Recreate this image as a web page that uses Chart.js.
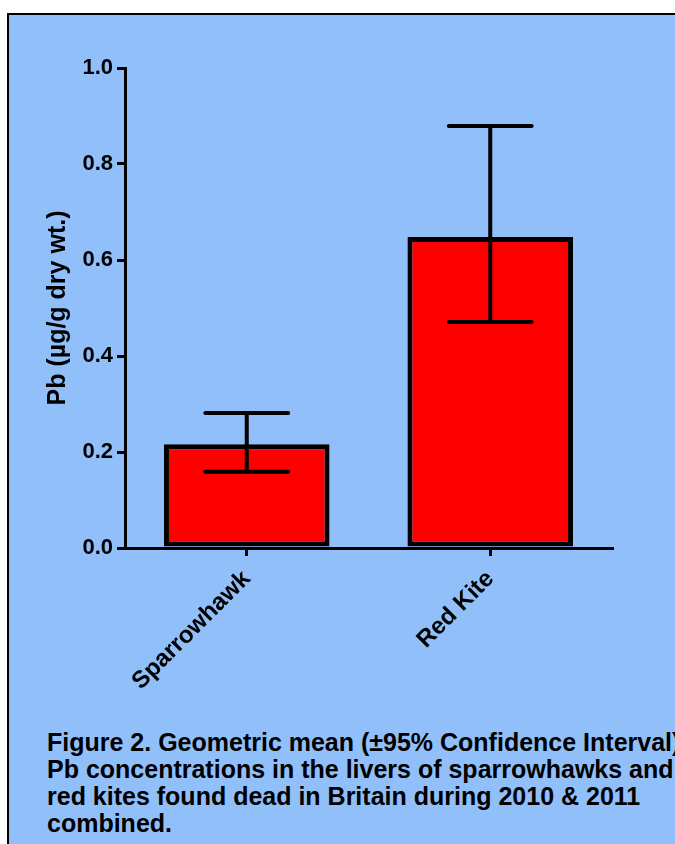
<!DOCTYPE html>
<html>
<head>
<meta charset="utf-8">
<script src="https://cdn.jsdelivr.net/npm/chart.js@4/dist/chart.umd.min.js"></script>
<style>
    body { margin: 0; background: #ffffff; overflow: hidden; width: 675px; height: 844px; position: relative; }
    .frame { position: absolute; left: 7px; top: 13px; width: 720px; height: 900px; background: #90bff9; border-left: 2px solid #000; border-top: 2px solid #000; }
    .chart-box { position: absolute; left: 0; top: 0; width: 675px; height: 700px; }
    .caption { position: absolute; left: 47px; top: 729px; font: bold 25px "Liberation Sans", Arial, sans-serif; line-height: 27px; color: #000; white-space: nowrap; }
</style>
</head>
<body>
<div class="frame"></div>
<div class="chart-box"><canvas id="chart" width="675" height="700"></canvas></div>
<div class="caption">Figure 2. Geometric mean (±95% Confidence Interval)<br>Pb concentrations in the livers of sparrowhawks and<br>red kites found dead in Britain during 2010 &amp; 2011<br>combined.</div>
<script>
const species = ["Sparrowhawk", "Red Kite"];
const geoMean = [0.216, 0.648];
const ciLower = [0.159, 0.471];
const ciUpper = [0.281, 0.879];
const yTicks = [0, 0.2, 0.4, 0.6, 0.8, 1.0];

const font = "'Liberation Sans', Arial, sans-serif";

// whiskers for the 95% CI, drawn on top of the bars
const errorBars = {
    id: 'errorBars',
    afterDatasetsDraw(chart) {
        let ctx = chart.ctx;
        let y = chart.scales.y;
        let bars = chart.getDatasetMeta(0).data;
        ctx.save();
        ctx.strokeStyle = '#000';
        ctx.lineWidth = 4;
        ctx.lineCap = 'round';
        bars.forEach((bar, i) => {
            let lo = y.getPixelForValue(ciLower[i]);
            let hi = y.getPixelForValue(ciUpper[i]);
            let half = bar.width / 4;
            ctx.beginPath();
            ctx.moveTo(bar.x, lo);
            ctx.lineTo(bar.x, hi);
            ctx.moveTo(bar.x - half, hi);
            ctx.lineTo(bar.x + half, hi);
            ctx.moveTo(bar.x - half, lo);
            ctx.lineTo(bar.x + half, lo);
            ctx.stroke();
        });
        ctx.restore();
    }
};

new Chart(document.getElementById('chart'), {
    type: 'bar',
    plugins: [errorBars],
    data: {
        labels: species,
        datasets: [{
            data: geoMean,
            backgroundColor: '#ff0000',
            borderColor: '#000000',
            borderWidth: 5,
            borderSkipped: false,
            categoryPercentage: 1,
            barPercentage: 0.68,
        }]
    },
    options: {
        responsive: false,
        animation: false,
        events: [],
        layout: { padding: { top: 68, right: 63, left: 0, bottom: 0 } },
        plugins: { legend: { display: false }, tooltip: { enabled: false } },
        scales: {
            x: {
                afterFit: scale => { scale.height = 152; },
                grid: { display: true, drawOnChartArea: false, drawTicks: true, offset: false, tickLength: 8, color: '#000', lineWidth: 3 },
                border: { display: true, color: '#000', width: 3 },
                ticks: {
                    color: '#000', minRotation: 45, maxRotation: 45, padding: 9,
                    font: { family: font, size: 24, weight: 'bold' }
                }
            },
            y: {
                min: 0,
                max: 1,
                afterFit: scale => { scale.width = 125; },
                afterBuildTicks: scale => { scale.ticks = yTicks.map(v => ({ value: v })); },
                grid: { display: true, drawOnChartArea: false, drawTicks: true, tickLength: 8, color: '#000', lineWidth: 3 },
                border: { display: true, color: '#000', width: 3 },
                ticks: {
                    color: '#000', padding: 4,
                    callback: value => value.toFixed(1),
                    font: { family: font, size: 22, weight: 'bold' }
                },
                title: {
                    display: true,
                    text: 'Pb (µg/g dry wt.)',
                    color: '#000',
                    padding: { top: 43, bottom: 0 },
                    font: { family: font, size: 25, weight: 'bold' }
                }
            }
        }
    }
});
</script>
</body>
</html>
